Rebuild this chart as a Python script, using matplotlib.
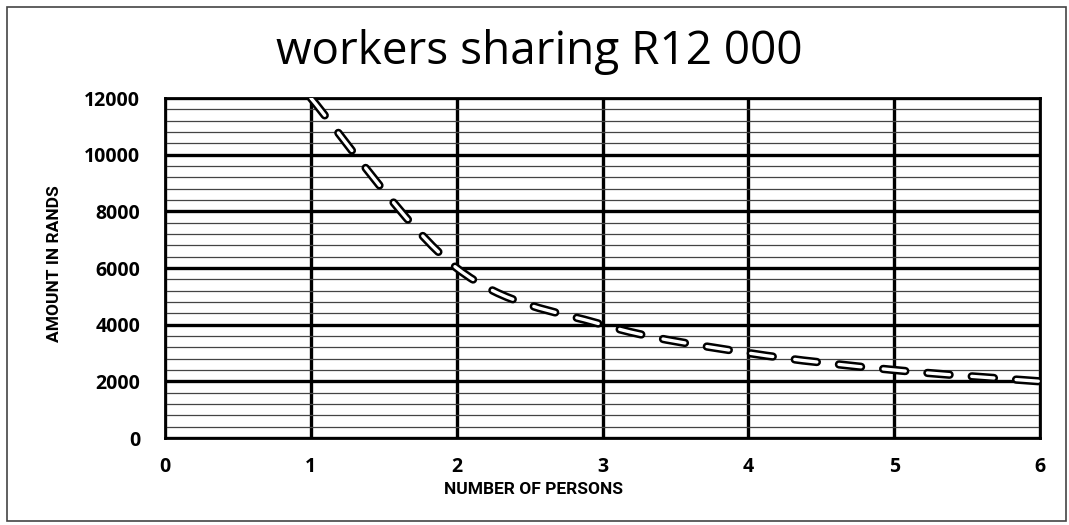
import matplotlib
matplotlib.use("Agg")
import matplotlib.pyplot as plt
from matplotlib.path import Path
from matplotlib.patches import PathPatch, Rectangle
import numpy as np

# ---- data ----
persons = [1, 2, 3, 4, 5, 6]
amount = [12000, 6000, 4000, 3000, 2400, 2000]
x_ticks = [0, 1, 2, 3, 4, 5, 6]
y_ticks = [0, 2000, 4000, 6000, 8000, 10000, 12000]
title = "workers sharing R12 000"
x_label = "NUMBER OF PERSONS"
y_label = "AMOUNT IN RANDS"

fig = plt.figure(figsize=(10.69, 5.25), dpi=100)
ax = fig.add_axes([165/1069, 1-438/525, (1040-165)/1069, (438-98)/525])

ax.set_xlim(0, 6)
ax.set_ylim(0, 12000)
ax.set_xticks(x_ticks)
ax.set_yticks(y_ticks)
ax.set_yticks(np.arange(0, 12001, 400), minor=True)
ax.tick_params(which="both", length=0)
ax.tick_params(axis="y", pad=18)
ax.tick_params(axis="x", pad=14)
for lab in ax.get_xticklabels() + ax.get_yticklabels():
    lab.set_fontfamily("Open Sans")
    lab.set_fontweight("bold")
    lab.set_fontsize(14)

ax.grid(which="minor", axis="y", color="#444444", linewidth=0.9)
ax.grid(which="major", axis="y", color="black", linewidth=2.4)
ax.grid(which="major", axis="x", color="black", linewidth=2.4)
ax.set_axisbelow(True)
for s in ax.spines.values():
    s.set_linewidth(2.0)
    s.set_color("black")

# smoothed (Bezier) line through the data points, like a spreadsheet smoothed line
pts = np.column_stack([persons, amount]).astype(float)
n = len(pts)
verts = [tuple(pts[0])]
codes = [Path.MOVETO]
for i in range(n - 1):
    p0 = pts[max(i - 1, 0)]
    p1 = pts[i]
    p2 = pts[i + 1]
    p3 = pts[min(i + 2, n - 1)]
    c1 = p1 + (p2 - p0) / 6.0
    c2 = p2 - (p3 - p1) / 6.0
    verts += [tuple(c1), tuple(c2), tuple(p2)]
    codes += [Path.CURVE4] * 3
path = Path(verts, codes)
outer = PathPatch(path, facecolor="none", edgecolor="black", linewidth=6,
                  linestyle=(0, (16/6, 16/6)), transform=ax.transData, zorder=5,
                  capstyle="round")
inner = PathPatch(path, facecolor="none", edgecolor="white", linewidth=2.4,
                  linestyle=(0, (16/2.4, 16/2.4)), transform=ax.transData, zorder=6,
                  capstyle="round")
ax.add_patch(outer)
ax.add_patch(inner)

fig.text(539/1069, 1-52/525, title, ha="center", va="center",
         fontsize=33, family="Open Sans")
fig.text(534/1069, 1-490/525, x_label, ha="center", va="center",
         fontsize=12.5, fontweight="bold", family="Roboto")
fig.text(55/1069, 1-264/525, y_label, ha="center", va="center", rotation=90,
         fontsize=12.5, fontweight="bold", family="Roboto")

fig.patches.append(Rectangle((7/1069, 1-521/525), (1066-7)/1069, (521-7)/525,
                             transform=fig.transFigure, fill=False,
                             edgecolor="#444444", linewidth=1.2))

fig.savefig("out.png", dpi=100)
